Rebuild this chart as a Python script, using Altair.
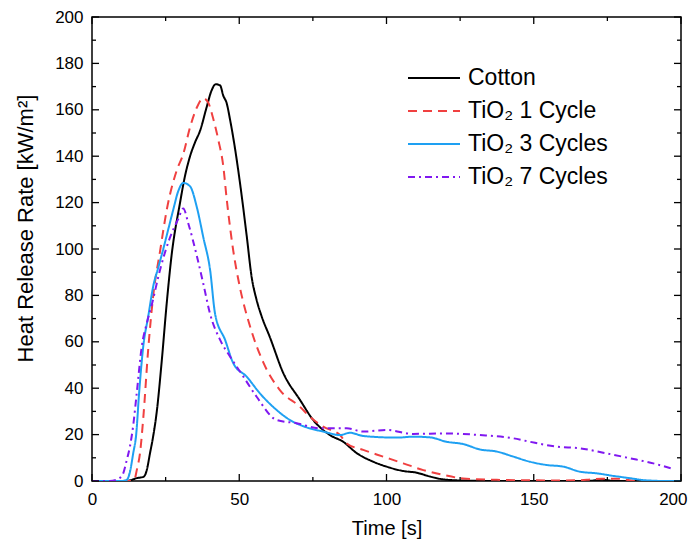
import altair as alt
import pandas as pd

# ---- data ----
series_names = ["Cotton", "TiO₂ 1 Cycle", "TiO₂ 3 Cycles", "TiO₂ 7 Cycles"]
series_colors = ["#000000", "#f04040", "#1ea0f2", "#8018f0"]
series_dashes = [[1, 0], [9, 6], [1, 0], [7, 4, 2, 4]]

cotton_x = [0, 10, 13, 15, 17.5, 18.6, 19.7, 20.6, 22, 23.7, 25.4, 27, 29.9, 31.5, 33.3, 35, 36.7,
            38.9, 40.5, 42, 43.5, 44.6, 45.7, 46.9, 48.6, 50.3, 52.5, 54.2, 55.9, 57.6, 60.4, 65,
            70.6, 75.1, 80.8, 85.3, 89.9, 95.5, 100, 105.7, 110.2, 114.8, 119.3, 126, 140, 168,
            173, 178, 200]
cotton_y = [0, 0, 0.3, 1.2, 1.8, 4.7, 12, 18, 30, 52, 77, 97, 120, 131, 140, 146, 151,
            161, 168, 171, 170.5, 166, 163, 155.6, 143, 128, 106, 88, 78, 71, 62, 46.4,
            35, 26.3, 19.8, 16.9, 12, 8.3, 6.2, 4.3, 3.6, 1.9, 0.7, 0.2, 0, 0,
            0.5, 0, 0]

tio1_x = [0, 10, 13, 14.5, 15.2, 16.3, 17.4, 19.1, 20.8, 23.1, 25.4, 28.8, 31, 33.3, 35.6, 37.8,
          39.5, 41.2, 42.9, 44.6, 45.7, 48, 50.3, 53.7, 58.2, 63.8, 70.6, 74, 78.5, 84.2, 86.5,
          92.1, 98.9, 105.7, 112.5, 119.3, 126, 137.4, 148.7, 160, 168, 173, 178, 185, 200]
tio1_y = [0, 0, 0, 1, 4.7, 12, 27, 57, 80, 99, 117, 134, 141, 152.5, 161, 165,
          163, 156, 147, 135.5, 122, 99, 83, 66.5, 51, 39.2, 32, 27.7, 23.4, 19.8, 16.2,
          13.4, 10.5, 7.6, 4.7, 2.6, 1.1, 0.5, 0.3, 0.2, 0.5, 1, 1, 0, 0]

tio3_x = [0, 10, 11.8, 12.9, 14, 15, 16, 17.4, 19.1, 20.8, 22.5, 24.2, 26, 27.6, 29.3, 31, 33.3,
          35.6, 37.8, 40.1, 41.8, 45.2, 48, 52.5, 57, 62.7, 67.2, 72, 78.5, 84.2, 87.6, 92.1,
          103.5, 109.1, 114.8, 120.4, 126.1, 131.7, 137.4, 143.1, 148.7, 154.4, 160, 165.7,
          171.4, 177, 182.7, 188, 195, 200]
tio3_y = [0, 0, 0.5, 4, 12, 20, 38, 58, 71, 84, 92, 100, 109, 117, 125, 128.5, 127,
          118, 105, 91, 72, 60.8, 50.7, 45, 37.8, 30.6, 26.3, 23.5, 21.3, 19.8, 20.8, 19.4,
          18.7, 19.1, 18.8, 16.9, 15.9, 13.6, 12.7, 10.5, 8.3, 6.9, 6.2, 4,
          3.3, 2.2, 1.2, 0.3, 0, 0]

tio7_x = [0, 6, 9, 10.5, 11.8, 12.9, 14, 15.2, 16.9, 18.6, 20.3, 23.1, 26.5, 29.3, 31, 32.7,
          35.6, 37.8, 40.1, 43.5, 46.9, 51.4, 55.9, 62.7, 69.5, 77.4, 84.2, 86.5, 92.1, 100,
          109.1, 120.4, 131.7, 143.1, 148.7, 157.8, 165.7, 173.6, 182.7, 190.6, 196.5]
tio7_y = [0, 0, 1, 3, 9, 15, 24, 38, 58, 68, 76, 91, 105, 113, 117.5, 111,
          97, 85, 72, 60.8, 53.6, 45, 36.3, 26.3, 24.9, 22.7, 22.7, 22.7, 21.3, 22,
          20.3, 20.5, 19.8, 18.4, 16.9, 14.8, 14.1, 12.2, 9.8, 7.6, 5.5]

x_major = [0, 50, 100, 150, 200]
x_minor = [25, 75, 125, 175]
y_major = [0, 20, 40, 60, 80, 100, 120, 140, 160, 180, 200]
y_minor = [10, 30, 50, 70, 90, 110, 130, 150, 170, 190]

x_title = "Time [s]"
y_title = "Heat Release Rate [kW/m²]"

# ---- build tables ----
rows = []
for name, xs, ys in zip(series_names,
                        [cotton_x, tio1_x, tio3_x, tio7_x],
                        [cotton_y, tio1_y, tio3_y, tio7_y]):
    for xv, yv in zip(xs, ys):
        rows.append({"series": name, "t": xv, "hrr": yv})
df = pd.DataFrame(rows)

W, H = 589, 464
FONT = "Liberation Sans"
xscale = alt.Scale(domain=[0, 200], nice=False, zero=False)
yscale = alt.Scale(domain=[0, 200], nice=False, zero=False)

last_x = "datum.value == 200"
x_axis = alt.Axis(values=x_major, tickSize=0, domain=False, grid=False, labelFlush=False,
                  labelAlign={"condition": {"test": last_x, "value": "right"}, "value": "center"},
                  labelOffset={"condition": {"test": last_x, "value": 6}, "value": 0},
                  labelFontSize=17, labelPadding=10, titleFontSize=20,
                  titlePadding=11, labelFont=FONT, titleFont=FONT,
                  titleFontWeight="normal", labelColor="black", titleColor="black")
y_axis = alt.Axis(values=y_major, tickSize=0, domain=False, grid=False, labelFlush=False,
                  labelFontSize=17, labelPadding=9, titleFontSize=22,
                  titlePadding=17, titleY=211, labelFont=FONT, titleFont=FONT,
                  titleFontWeight="normal", labelColor="black", titleColor="black")

legend_kw = dict(title=None, orient="none", legendX=315, legendY=48,
                 symbolType="stroke", symbolSize=2704, symbolStrokeWidth=2,
                 labelFontSize=23, labelFont=FONT, labelOffset=7, rowPadding=7,
                 clipHeight=26, labelColor="black", padding=0)

lines = alt.Chart(df).mark_line(strokeWidth=2, interpolate="monotone", clip=True).encode(
    x=alt.X("t:Q", scale=xscale, title=x_title, axis=x_axis),
    y=alt.Y("hrr:Q", scale=yscale, title=y_title, axis=y_axis),
    color=alt.Color("series:N", scale=alt.Scale(domain=series_names, range=series_colors),
                    legend=alt.Legend(**legend_kw)),
    strokeDash=alt.StrokeDash("series:N",
                              scale=alt.Scale(domain=series_names, range=series_dashes),
                              legend=alt.Legend(**legend_kw)),
)


def xticks(vals, length, top):
    d = pd.DataFrame({"v": vals})
    y0 = 0 if top else H
    y1 = length if top else H - length
    return alt.Chart(d).mark_rule(color="black", strokeWidth=1.3).encode(
        x=alt.X("v:Q", scale=xscale, title=x_title, axis=x_axis),
        y=alt.value(y0), y2=alt.value(y1))


def yticks(vals, length, right):
    d = pd.DataFrame({"v": vals})
    x0 = W if right else 0
    x1 = W - length if right else length
    return alt.Chart(d).mark_rule(color="black", strokeWidth=1.3).encode(
        y=alt.Y("v:Q", scale=yscale, title=y_title, axis=y_axis),
        x=alt.value(x0), x2=alt.value(x1))


layers = [lines]
for top in (False, True):
    layers.append(xticks(x_major, 7, top))
    layers.append(xticks(x_minor, 4, top))
for right in (False, True):
    layers.append(yticks(y_major, 7, right))
    layers.append(yticks(y_minor, 4, right))

chart = alt.layer(*layers).properties(
    width=W, height=H,
    autosize=alt.AutoSizeParams(type="none"),
    padding={"left": 84, "top": 9, "right": 7, "bottom": 60},
    background="white",
).configure_view(stroke="black", strokeWidth=1.5)

chart.save("out.html", embed_options={"renderer": "svg", "actions": False})
